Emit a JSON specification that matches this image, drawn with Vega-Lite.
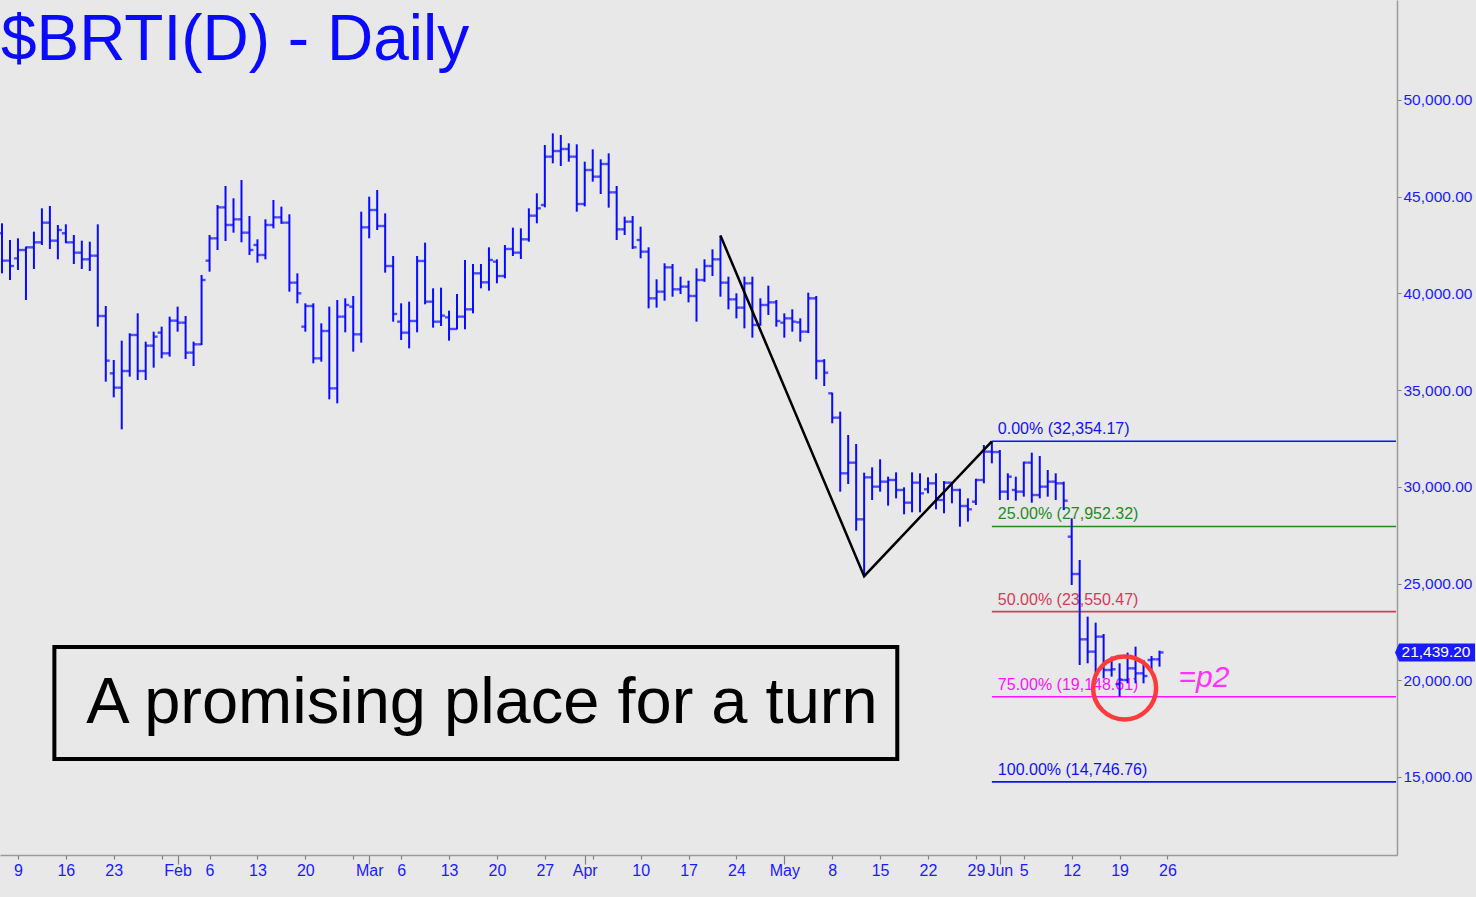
{
"$schema": "https://vega.github.io/schema/vega-lite/v6.json",
"width": 1397,
"height": 855,
"autosize": {"type": "none"},
"padding": {"left": 0, "top": 0, "right": 79, "bottom": 42},
"background": "#e8e8e8",
"config": {"view": {"stroke": null}, "font": "Liberation Sans",
 "axisY": {"title": null, "orient": "right", "labelColor": "#1a1aff", "labelFontSize": 15.5, "labelFont": "Liberation Sans", "labelPadding": 2, "tickSize": 4, "tickColor": "#808080", "domainColor": "#9a9a9a", "domainWidth": 1.5, "grid": false, "labelBaseline": "middle"}},
"title": {"text": "$BRTI(D) - Daily", "anchor": "start", "frame": "group", "offset": 0, "baseline": "alphabetic", "dy": 124, "dx": 1, "fontSize": 64, "font": "Liberation Sans", "fontWeight": "normal", "color": "#0a0aff"},
"datasets": {
"ohlc": [
{"d":"2022-01-06","o":43107,"h":43624,"l":41039,"c":41694},
{"d":"2022-01-07","o":41694,"h":42762,"l":40694,"c":41418},
{"d":"2022-01-09","o":41814,"h":42848,"l":41211,"c":42245},
{"d":"2022-01-10","o":42245,"h":42420,"l":39660,"c":42383},
{"d":"2022-01-11","o":42383,"h":43193,"l":41263,"c":42641},
{"d":"2022-01-12","o":42641,"h":44399,"l":42504,"c":43658},
{"d":"2022-01-13","o":43658,"h":44520,"l":42297,"c":42728},
{"d":"2022-01-14","o":42728,"h":43538,"l":41763,"c":43279},
{"d":"2022-01-16","o":43107,"h":43572,"l":42600,"c":42641},
{"d":"2022-01-17","o":42641,"h":43020,"l":41521,"c":42107},
{"d":"2022-01-18","o":42107,"h":42728,"l":41263,"c":41763},
{"d":"2022-01-19","o":41763,"h":42676,"l":41159,"c":41952},
{"d":"2022-01-20","o":41952,"h":43572,"l":38281,"c":38833},
{"d":"2022-01-21","o":38833,"h":39350,"l":35438,"c":36524},
{"d":"2022-01-23","o":35869,"h":36558,"l":34628,"c":35128},
{"d":"2022-01-24","o":35128,"h":37557,"l":32974,"c":35989},
{"d":"2022-01-25","o":35989,"h":37937,"l":35697,"c":37851},
{"d":"2022-01-26","o":37851,"h":38971,"l":35524,"c":35989},
{"d":"2022-01-27","o":35989,"h":37506,"l":35524,"c":37299},
{"d":"2022-01-28","o":37299,"h":38023,"l":36162,"c":37764},
{"d":"2022-01-30","o":37971,"h":38282,"l":36644,"c":36903},
{"d":"2022-01-31","o":36903,"h":38798,"l":36731,"c":38592},
{"d":"2022-02-01","o":38592,"h":39315,"l":38023,"c":38488},
{"d":"2022-02-02","o":38488,"h":38833,"l":36610,"c":36938},
{"d":"2022-02-03","o":36938,"h":37506,"l":36248,"c":37368},
{"d":"2022-02-04","o":37368,"h":40953,"l":37334,"c":40694},
{"d":"2022-02-06","o":41694,"h":43020,"l":41125,"c":42848},
{"d":"2022-02-07","o":42848,"h":44571,"l":42245,"c":44451},
{"d":"2022-02-08","o":44451,"h":45554,"l":42710,"c":43538},
{"d":"2022-02-09","o":43538,"h":44916,"l":43141,"c":43831},
{"d":"2022-02-10","o":43831,"h":45864,"l":42642,"c":43141},
{"d":"2022-02-11","o":43141,"h":44003,"l":41985,"c":42245},
{"d":"2022-02-13","o":42504,"h":42797,"l":41590,"c":41987},
{"d":"2022-02-14","o":41987,"h":43831,"l":41763,"c":43538},
{"d":"2022-02-15","o":43538,"h":44830,"l":43365,"c":43934},
{"d":"2022-02-16","o":43934,"h":44485,"l":43600,"c":43658},
{"d":"2022-02-17","o":43658,"h":44089,"l":40091,"c":40556},
{"d":"2022-02-18","o":40556,"h":41039,"l":39488,"c":40005},
{"d":"2022-02-20","o":38281,"h":39488,"l":38023,"c":39350},
{"d":"2022-02-21","o":39350,"h":39488,"l":36386,"c":36644},
{"d":"2022-02-22","o":36644,"h":38454,"l":36472,"c":38058},
{"d":"2022-02-23","o":38058,"h":39316,"l":34525,"c":35093},
{"d":"2022-02-24","o":35093,"h":39660,"l":34318,"c":38799},
{"d":"2022-02-25","o":38799,"h":39746,"l":37989,"c":39402},
{"d":"2022-02-27","o":39316,"h":39867,"l":36989,"c":37885},
{"d":"2022-02-28","o":37885,"h":44227,"l":37454,"c":43417},
{"d":"2022-03-01","o":43417,"h":45002,"l":42848,"c":44313},
{"d":"2022-03-02","o":44313,"h":45347,"l":43279,"c":43486},
{"d":"2022-03-03","o":43486,"h":44141,"l":41073,"c":41418},
{"d":"2022-03-04","o":41418,"h":41935,"l":38540,"c":38937},
{"d":"2022-03-06","o":38540,"h":39488,"l":37592,"c":37971},
{"d":"2022-03-07","o":37971,"h":39574,"l":37161,"c":38575},
{"d":"2022-03-08","o":38575,"h":41935,"l":37989,"c":41677},
{"d":"2022-03-09","o":41677,"h":42624,"l":39436,"c":39574},
{"d":"2022-03-10","o":39574,"h":40263,"l":38230,"c":38540},
{"d":"2022-03-11","o":38540,"h":40298,"l":38316,"c":38850},
{"d":"2022-03-13","o":38764,"h":39109,"l":37558,"c":38161},
{"d":"2022-03-14","o":38161,"h":39970,"l":38144,"c":38799},
{"d":"2022-03-15","o":38799,"h":41728,"l":38144,"c":39178},
{"d":"2022-03-16","o":39178,"h":41521,"l":38971,"c":41039},
{"d":"2022-03-17","o":41039,"h":41521,"l":40263,"c":40573},
{"d":"2022-03-18","o":40573,"h":42383,"l":40143,"c":41728},
{"d":"2022-03-20","o":41642,"h":41763,"l":40522,"c":40901},
{"d":"2022-03-21","o":40901,"h":42504,"l":40781,"c":42297},
{"d":"2022-03-22","o":42297,"h":43400,"l":41935,"c":42107},
{"d":"2022-03-23","o":42107,"h":43365,"l":41780,"c":42797},
{"d":"2022-03-24","o":42797,"h":44399,"l":42676,"c":44020},
{"d":"2022-03-25","o":44020,"h":45175,"l":43624,"c":44399},
{"d":"2022-03-27","o":44572,"h":47673,"l":44451,"c":47070},
{"d":"2022-03-28","o":47070,"h":48277,"l":46726,"c":47363},
{"d":"2022-03-29","o":47363,"h":48191,"l":46588,"c":47467},
{"d":"2022-03-30","o":47467,"h":47760,"l":46812,"c":47070},
{"d":"2022-03-31","o":47070,"h":47708,"l":44227,"c":44623},
{"d":"2022-04-01","o":44623,"h":46812,"l":44500,"c":46381},
{"d":"2022-04-03","o":46381,"h":47449,"l":45778,"c":46036},
{"d":"2022-04-04","o":46036,"h":46933,"l":45140,"c":46691},
{"d":"2022-04-05","o":46691,"h":47243,"l":44434,"c":45226},
{"d":"2022-04-06","o":45226,"h":45554,"l":42762,"c":43314},
{"d":"2022-04-07","o":43314,"h":43968,"l":43020,"c":43710},
{"d":"2022-04-08","o":43710,"h":44003,"l":42300,"c":42383},
{"d":"2022-04-10","o":42762,"h":43451,"l":41814,"c":42159},
{"d":"2022-04-11","o":42159,"h":42383,"l":39229,"c":39746},
{"d":"2022-04-12","o":39746,"h":40729,"l":39264,"c":40091},
{"d":"2022-04-13","o":40091,"h":41556,"l":39626,"c":41349},
{"d":"2022-04-14","o":41349,"h":41521,"l":39832,"c":40212},
{"d":"2022-04-15","o":40212,"h":40867,"l":39970,"c":40350},
{"d":"2022-04-17","o":40350,"h":40660,"l":39539,"c":39867},
{"d":"2022-04-18","o":39867,"h":41297,"l":38540,"c":40694},
{"d":"2022-04-19","o":40694,"h":41763,"l":40600,"c":41418},
{"d":"2022-04-20","o":41418,"h":42279,"l":40901,"c":41763},
{"d":"2022-04-21","o":41763,"h":42990,"l":39832,"c":40556},
{"d":"2022-04-22","o":40556,"h":40867,"l":39178,"c":39694},
{"d":"2022-04-24","o":39694,"h":40005,"l":38712,"c":39264},
{"d":"2022-04-25","o":39264,"h":40867,"l":38195,"c":40522},
{"d":"2022-04-26","o":40522,"h":40867,"l":37713,"c":38368},
{"d":"2022-04-27","o":38368,"h":39746,"l":38333,"c":39402},
{"d":"2022-04-28","o":39402,"h":40401,"l":38885,"c":39539},
{"d":"2022-04-29","o":39539,"h":39660,"l":38282,"c":38574},
{"d":"2022-05-01","o":38488,"h":38971,"l":37713,"c":38712},
{"d":"2022-05-02","o":38712,"h":39178,"l":38023,"c":38540},
{"d":"2022-05-03","o":38505,"h":38712,"l":37506,"c":38023},
{"d":"2022-05-04","o":38023,"h":40039,"l":37950,"c":39746},
{"d":"2022-05-05","o":39746,"h":39867,"l":35559,"c":36506},
{"d":"2022-05-06","o":36506,"h":36600,"l":35214,"c":35903},
{"d":"2022-05-08","o":34835,"h":34869,"l":33284,"c":33577},
{"d":"2022-05-09","o":33577,"h":33887,"l":29751,"c":30699},
{"d":"2022-05-10","o":30699,"h":32681,"l":30148,"c":31250},
{"d":"2022-05-11","o":31250,"h":32215,"l":27735,"c":28321},
{"d":"2022-05-12","o":28321,"h":30733,"l":25382.59,"c":30492},
{"d":"2022-05-13","o":30492,"h":31009,"l":29320,"c":30010},
{"d":"2022-05-15","o":30010,"h":31423,"l":29751,"c":30268},
{"d":"2022-05-16","o":30268,"h":30527,"l":29027,"c":30354},
{"d":"2022-05-17","o":30354,"h":30750,"l":29406,"c":29837},
{"d":"2022-05-18","o":29837,"h":29975,"l":28579,"c":29182},
{"d":"2022-05-19","o":29182,"h":30750,"l":28683,"c":30216},
{"d":"2022-05-20","o":30216,"h":30699,"l":28683,"c":29665},
{"d":"2022-05-22","o":29872,"h":30492,"l":29665,"c":30182},
{"d":"2022-05-23","o":30182,"h":30699,"l":28838,"c":29320},
{"d":"2022-05-24","o":29320,"h":30300,"l":28631,"c":30216},
{"d":"2022-05-25","o":30216,"h":30250,"l":29148,"c":29837},
{"d":"2022-05-26","o":29837,"h":29900,"l":27941,"c":29010},
{"d":"2022-05-27","o":29010,"h":29406,"l":28200,"c":28838},
{"d":"2022-05-29","o":29234,"h":30420,"l":29062,"c":30354},
{"d":"2022-05-30","o":30354,"h":32164,"l":30182,"c":31819},
{"d":"2022-05-31","o":31819,"h":32354.17,"l":31216,"c":31800},
{"d":"2022-06-01","o":31800,"h":31905,"l":29320,"c":29751},
{"d":"2022-06-02","o":29751,"h":30699,"l":29320,"c":30526},
{"d":"2022-06-03","o":29837,"h":30526,"l":29286,"c":29751},
{"d":"2022-06-05","o":29751,"h":31302,"l":29492,"c":31250},
{"d":"2022-06-06","o":31250,"h":31767,"l":29182,"c":29578},
{"d":"2022-06-07","o":29578,"h":31595,"l":29406,"c":30009},
{"d":"2022-06-08","o":30009,"h":30871,"l":29492,"c":30268},
{"d":"2022-06-09","o":30268,"h":30699,"l":29320,"c":30182},
{"d":"2022-06-10","o":30182,"h":30268,"l":28803,"c":29286},
{"d":"2022-06-12","o":27424,"h":28372,"l":24926,"c":25494},
{"d":"2022-06-13","o":25494,"h":26218,"l":20790,"c":22117},
{"d":"2022-06-14","o":22117,"h":23289,"l":20876,"c":21479},
{"d":"2022-06-15","o":21479,"h":22978,"l":20014,"c":22255},
{"d":"2022-06-16","o":22255,"h":22393,"l":20100,"c":20531},
{"d":"2022-06-17","o":20531,"h":21221,"l":20187,"c":20566},
{"d":"2022-06-19","o":19800,"h":20876,"l":19153,"c":20014},
{"d":"2022-06-20","o":20014,"h":21428,"l":19842,"c":20617},
{"d":"2022-06-21","o":20617,"h":21737,"l":19842,"c":20359},
{"d":"2022-06-22","o":20359,"h":21048,"l":19842,"c":20221},
{"d":"2022-06-23","o":21048,"h":21255,"l":20531,"c":21083},
{"d":"2022-06-24","o":21083,"h":21531,"l":20704,"c":21439.2}
],
"fib": [
{"d":"2022-05-31","d2":"2022-07-28","lvl":"0","p":32354.17,"t":"0.00% (32,354.17)"},
{"d":"2022-05-31","d2":"2022-07-28","lvl":"25","p":27952.32,"t":"25.00% (27,952.32)"},
{"d":"2022-05-31","d2":"2022-07-28","lvl":"50","p":23550.47,"t":"50.00% (23,550.47)"},
{"d":"2022-05-31","d2":"2022-07-28","lvl":"75","p":19148.61,"t":"75.00% (19,148.61)"},
{"d":"2022-05-31","d2":"2022-07-28","lvl":"100","p":14746.76,"t":"100.00% (14,746.76)"}
],
"abc": [
{"d":"2022-04-21","p":42990},
{"d":"2022-05-12","p":25382.59},
{"d":"2022-05-31","p":32354.17}
],
"box": [{"d":"2022-01-14","d2":"2022-05-17","top":21720,"bot":15930,"cx":"2022-03-17","base":17791,"t":"A promising place for a turn"}],
"mark": [{"d":"2022-06-19","p":19600}],
"p2": [{"d":"2022-06-27","p":19652,"t":"=p2"}],
"tag": [{"d":"2022-07-28","p":21439.2,"t":"21,439.20"}]
},
"encoding": {
"x": {"field": "d", "type": "ordinal",
 "scale": {"type": "point", "paddingOuter": 0.378, "align": 0.25, "domain": [
"2022-01-06","2022-01-07","2022-01-09","2022-01-10","2022-01-11","2022-01-12","2022-01-13","2022-01-14","2022-01-16","2022-01-17","2022-01-18","2022-01-19","2022-01-20","2022-01-21","2022-01-23","2022-01-24","2022-01-25","2022-01-26","2022-01-27","2022-01-28","2022-01-30","2022-01-31",
"2022-02-01","2022-02-02","2022-02-03","2022-02-04","2022-02-06","2022-02-07","2022-02-08","2022-02-09","2022-02-10","2022-02-11","2022-02-13","2022-02-14","2022-02-15","2022-02-16","2022-02-17","2022-02-18","2022-02-20","2022-02-21","2022-02-22","2022-02-23","2022-02-24","2022-02-25","2022-02-27","2022-02-28",
"2022-03-01","2022-03-02","2022-03-03","2022-03-04","2022-03-06","2022-03-07","2022-03-08","2022-03-09","2022-03-10","2022-03-11","2022-03-13","2022-03-14","2022-03-15","2022-03-16","2022-03-17","2022-03-18","2022-03-20","2022-03-21","2022-03-22","2022-03-23","2022-03-24","2022-03-25","2022-03-27","2022-03-28","2022-03-29","2022-03-30","2022-03-31",
"2022-04-01","2022-04-03","2022-04-04","2022-04-05","2022-04-06","2022-04-07","2022-04-08","2022-04-10","2022-04-11","2022-04-12","2022-04-13","2022-04-14","2022-04-15","2022-04-17","2022-04-18","2022-04-19","2022-04-20","2022-04-21","2022-04-22","2022-04-24","2022-04-25","2022-04-26","2022-04-27","2022-04-28","2022-04-29",
"2022-05-01","2022-05-02","2022-05-03","2022-05-04","2022-05-05","2022-05-06","2022-05-08","2022-05-09","2022-05-10","2022-05-11","2022-05-12","2022-05-13","2022-05-15","2022-05-16","2022-05-17","2022-05-18","2022-05-19","2022-05-20","2022-05-22","2022-05-23","2022-05-24","2022-05-25","2022-05-26","2022-05-27","2022-05-29","2022-05-30","2022-05-31",
"2022-06-01","2022-06-02","2022-06-03","2022-06-05","2022-06-06","2022-06-07","2022-06-08","2022-06-09","2022-06-10","2022-06-12","2022-06-13","2022-06-14","2022-06-15","2022-06-16","2022-06-17","2022-06-19","2022-06-20","2022-06-21","2022-06-22","2022-06-23","2022-06-24","2022-06-26","2022-06-27","2022-06-28","2022-06-29","2022-06-30",
"2022-07-01","2022-07-03","2022-07-04","2022-07-05","2022-07-06","2022-07-07","2022-07-08","2022-07-10","2022-07-11","2022-07-12","2022-07-13","2022-07-14","2022-07-15","2022-07-17","2022-07-18","2022-07-19","2022-07-20","2022-07-21","2022-07-22","2022-07-24","2022-07-25","2022-07-26","2022-07-27","2022-07-28"]},
 "axis": {"title": null, "values": ["2022-01-09","2022-01-16","2022-01-23","2022-01-30","2022-02-01","2022-02-06","2022-02-13","2022-02-20","2022-02-27","2022-03-01","2022-03-06","2022-03-13","2022-03-20","2022-03-27","2022-04-01","2022-04-03","2022-04-10","2022-04-17","2022-04-24","2022-05-01","2022-05-08","2022-05-15","2022-05-22","2022-05-29","2022-06-01","2022-06-05","2022-06-12","2022-06-19","2022-06-26"],
  "labelExpr": "indexof(['2022-01-30','2022-02-27','2022-04-03'], datum.value) >= 0 ? '' : (substring(datum.value, 8, 10) == '01' ? ['Jan','Feb','Mar','Apr','May','Jun','Jul'][toNumber(substring(datum.value, 5, 7)) - 1] : '' + toNumber(substring(datum.value, 8, 10)))",
  "labelAngle": 0, "labelOverlap": false, "labelAlign": "center", "labelBaseline": "top", "labelColor": "#1a1aff", "labelFontSize": 16, "labelFont": "Liberation Sans",
  "labelPadding": {"condition": {"test": "substring(datum.value, 8, 10) == '01'", "value": -2}, "value": 3},
  "tickSize": {"condition": {"test": "substring(datum.value, 8, 10) == '01'", "value": 9}, "value": 4},
  "tickColor": "#808080", "tickWidth": 1.2, "domainColor": "#9a9a9a", "domainWidth": 1.5, "grid": false}}
},
"layer": [
{"data": {"name": "fib"}, "mark": {"type": "rule", "strokeWidth": 1.6, "x2Offset": 5},
 "encoding": {"x2": {"field": "d2"}, "y": {"field": "p", "type": "quantitative", "scale": {"domain": [10966, 55170], "nice": false, "zero": false}, "axis": {"title": null, "values": [15000, 20000, 25000, 30000, 35000, 40000, 45000, 50000], "format": ",.2f"}},
  "color": {"field": "lvl", "type": "nominal", "legend": null, "scale": {"domain": ["0","25","50","75","100"], "range": ["#1010ff","#1e8c1e","#d23c5a","#ff10ff","#1010ff"]}}}},
{"data": {"name": "fib"}, "mark": {"type": "text", "align": "left", "baseline": "alphabetic", "dx": 6, "dy": -7, "fontSize": 16, "font": "Liberation Sans"},
 "encoding": {"y": {"field": "p", "type": "quantitative", "scale": {"domain": [10966, 55170], "nice": false, "zero": false}, "axis": {"title": null, "values": [15000, 20000, 25000, 30000, 35000, 40000, 45000, 50000], "format": ",.2f"}}, "text": {"field": "t"},
  "color": {"field": "lvl", "type": "nominal", "legend": null, "scale": {"domain": ["0","25","50","75","100"], "range": ["#1010ff","#1e8c1e","#d23c5a","#ff10ff","#1010ff"]}}}},
{"data": {"name": "box"}, "mark": {"type": "rect", "fill": null, "fillOpacity": 0, "stroke": "#000000", "strokeWidth": 4, "xOffset": -3.5, "x2Offset": 1.2},
 "encoding": {"x2": {"field": "d2"}, "y": {"field": "top", "type": "quantitative", "scale": {"domain": [10966, 55170], "nice": false, "zero": false}, "axis": {"title": null, "values": [15000, 20000, 25000, 30000, 35000, 40000, 45000, 50000], "format": ",.2f"}}, "y2": {"field": "bot"}}},
{"data": {"name": "box"}, "mark": {"type": "text", "align": "center", "baseline": "alphabetic", "fontSize": 65, "font": "Liberation Sans", "color": "#000000", "dx": 1},
 "encoding": {"x": {"field": "cx", "type": "ordinal"}, "y": {"field": "base", "type": "quantitative", "scale": {"domain": [10966, 55170], "nice": false, "zero": false}, "axis": {"title": null, "values": [15000, 20000, 25000, 30000, 35000, 40000, 45000, 50000], "format": ",.2f"}}, "text": {"field": "t"}}},
{"data": {"name": "ohlc"}, "mark": {"type": "rule", "color": "#0a0aff", "strokeWidth": 2},
 "encoding": {"y": {"field": "l", "type": "quantitative", "scale": {"domain": [10966, 55170], "nice": false, "zero": false}, "axis": {"title": null, "values": [15000, 20000, 25000, 30000, 35000, 40000, 45000, 50000], "format": ",.2f"}},
  "y2": {"field": "h"}}},
{"data": {"name": "ohlc"}, "mark": {"type": "tick", "orient": "horizontal", "color": "#0a0aff", "size": 4, "thickness": 2.4, "xOffset": -2},
 "encoding": {"y": {"field": "o", "type": "quantitative", "scale": {"domain": [10966, 55170], "nice": false, "zero": false}, "axis": {"title": null, "values": [15000, 20000, 25000, 30000, 35000, 40000, 45000, 50000], "format": ",.2f"}}}},
{"data": {"name": "ohlc"}, "mark": {"type": "tick", "orient": "horizontal", "color": "#0a0aff", "size": 4, "thickness": 2.4, "xOffset": 2},
 "encoding": {"y": {"field": "c", "type": "quantitative", "scale": {"domain": [10966, 55170], "nice": false, "zero": false}, "axis": {"title": null, "values": [15000, 20000, 25000, 30000, 35000, 40000, 45000, 50000], "format": ",.2f"}}}},
{"data": {"name": "abc"}, "mark": {"type": "line", "color": "#000000", "strokeWidth": 2.5},
 "encoding": {"y": {"field": "p", "type": "quantitative", "scale": {"domain": [10966, 55170], "nice": false, "zero": false}, "axis": {"title": null, "values": [15000, 20000, 25000, 30000, 35000, 40000, 45000, 50000], "format": ",.2f"}}}},
{"data": {"name": "mark"}, "mark": {"type": "point", "shape": "circle", "filled": false, "stroke": "#ff3a3a", "strokeWidth": 4.5, "size": 3969, "opacity": 1, "xOffset": 5},
 "encoding": {"y": {"field": "p", "type": "quantitative", "scale": {"domain": [10966, 55170], "nice": false, "zero": false}, "axis": {"title": null, "values": [15000, 20000, 25000, 30000, 35000, 40000, 45000, 50000], "format": ",.2f"}}}},
{"data": {"name": "p2"}, "mark": {"type": "text", "align": "left", "baseline": "alphabetic", "fontSize": 30, "fontStyle": "italic", "font": "Liberation Sans", "color": "#ff33ff", "dx": 3},
 "encoding": {"y": {"field": "p", "type": "quantitative", "scale": {"domain": [10966, 55170], "nice": false, "zero": false}, "axis": {"title": null, "values": [15000, 20000, 25000, 30000, 35000, 40000, 45000, 50000], "format": ",.2f"}}, "text": {"field": "t"}}},
{"data": {"name": "tag"}, "mark": {"type": "point", "shape": "M-1,0L-0.9,-0.225L1,-0.225L1,0.225L-0.9,0.225Z", "filled": true, "fill": "#1a1aff", "strokeWidth": 0, "size": 6400, "opacity": 1, "xOffset": 44},
 "encoding": {"y": {"field": "p", "type": "quantitative", "scale": {"domain": [10966, 55170], "nice": false, "zero": false}, "axis": {"title": null, "values": [15000, 20000, 25000, 30000, 35000, 40000, 45000, 50000], "format": ",.2f"}}}},
{"data": {"name": "tag"}, "mark": {"type": "text", "align": "left", "baseline": "middle", "fontSize": 15.5, "font": "Liberation Sans", "color": "#ffffff", "dx": 10.5},
 "encoding": {"y": {"field": "p", "type": "quantitative", "scale": {"domain": [10966, 55170], "nice": false, "zero": false}, "axis": {"title": null, "values": [15000, 20000, 25000, 30000, 35000, 40000, 45000, 50000], "format": ",.2f"}}, "text": {"field": "t"}}}
]
}
